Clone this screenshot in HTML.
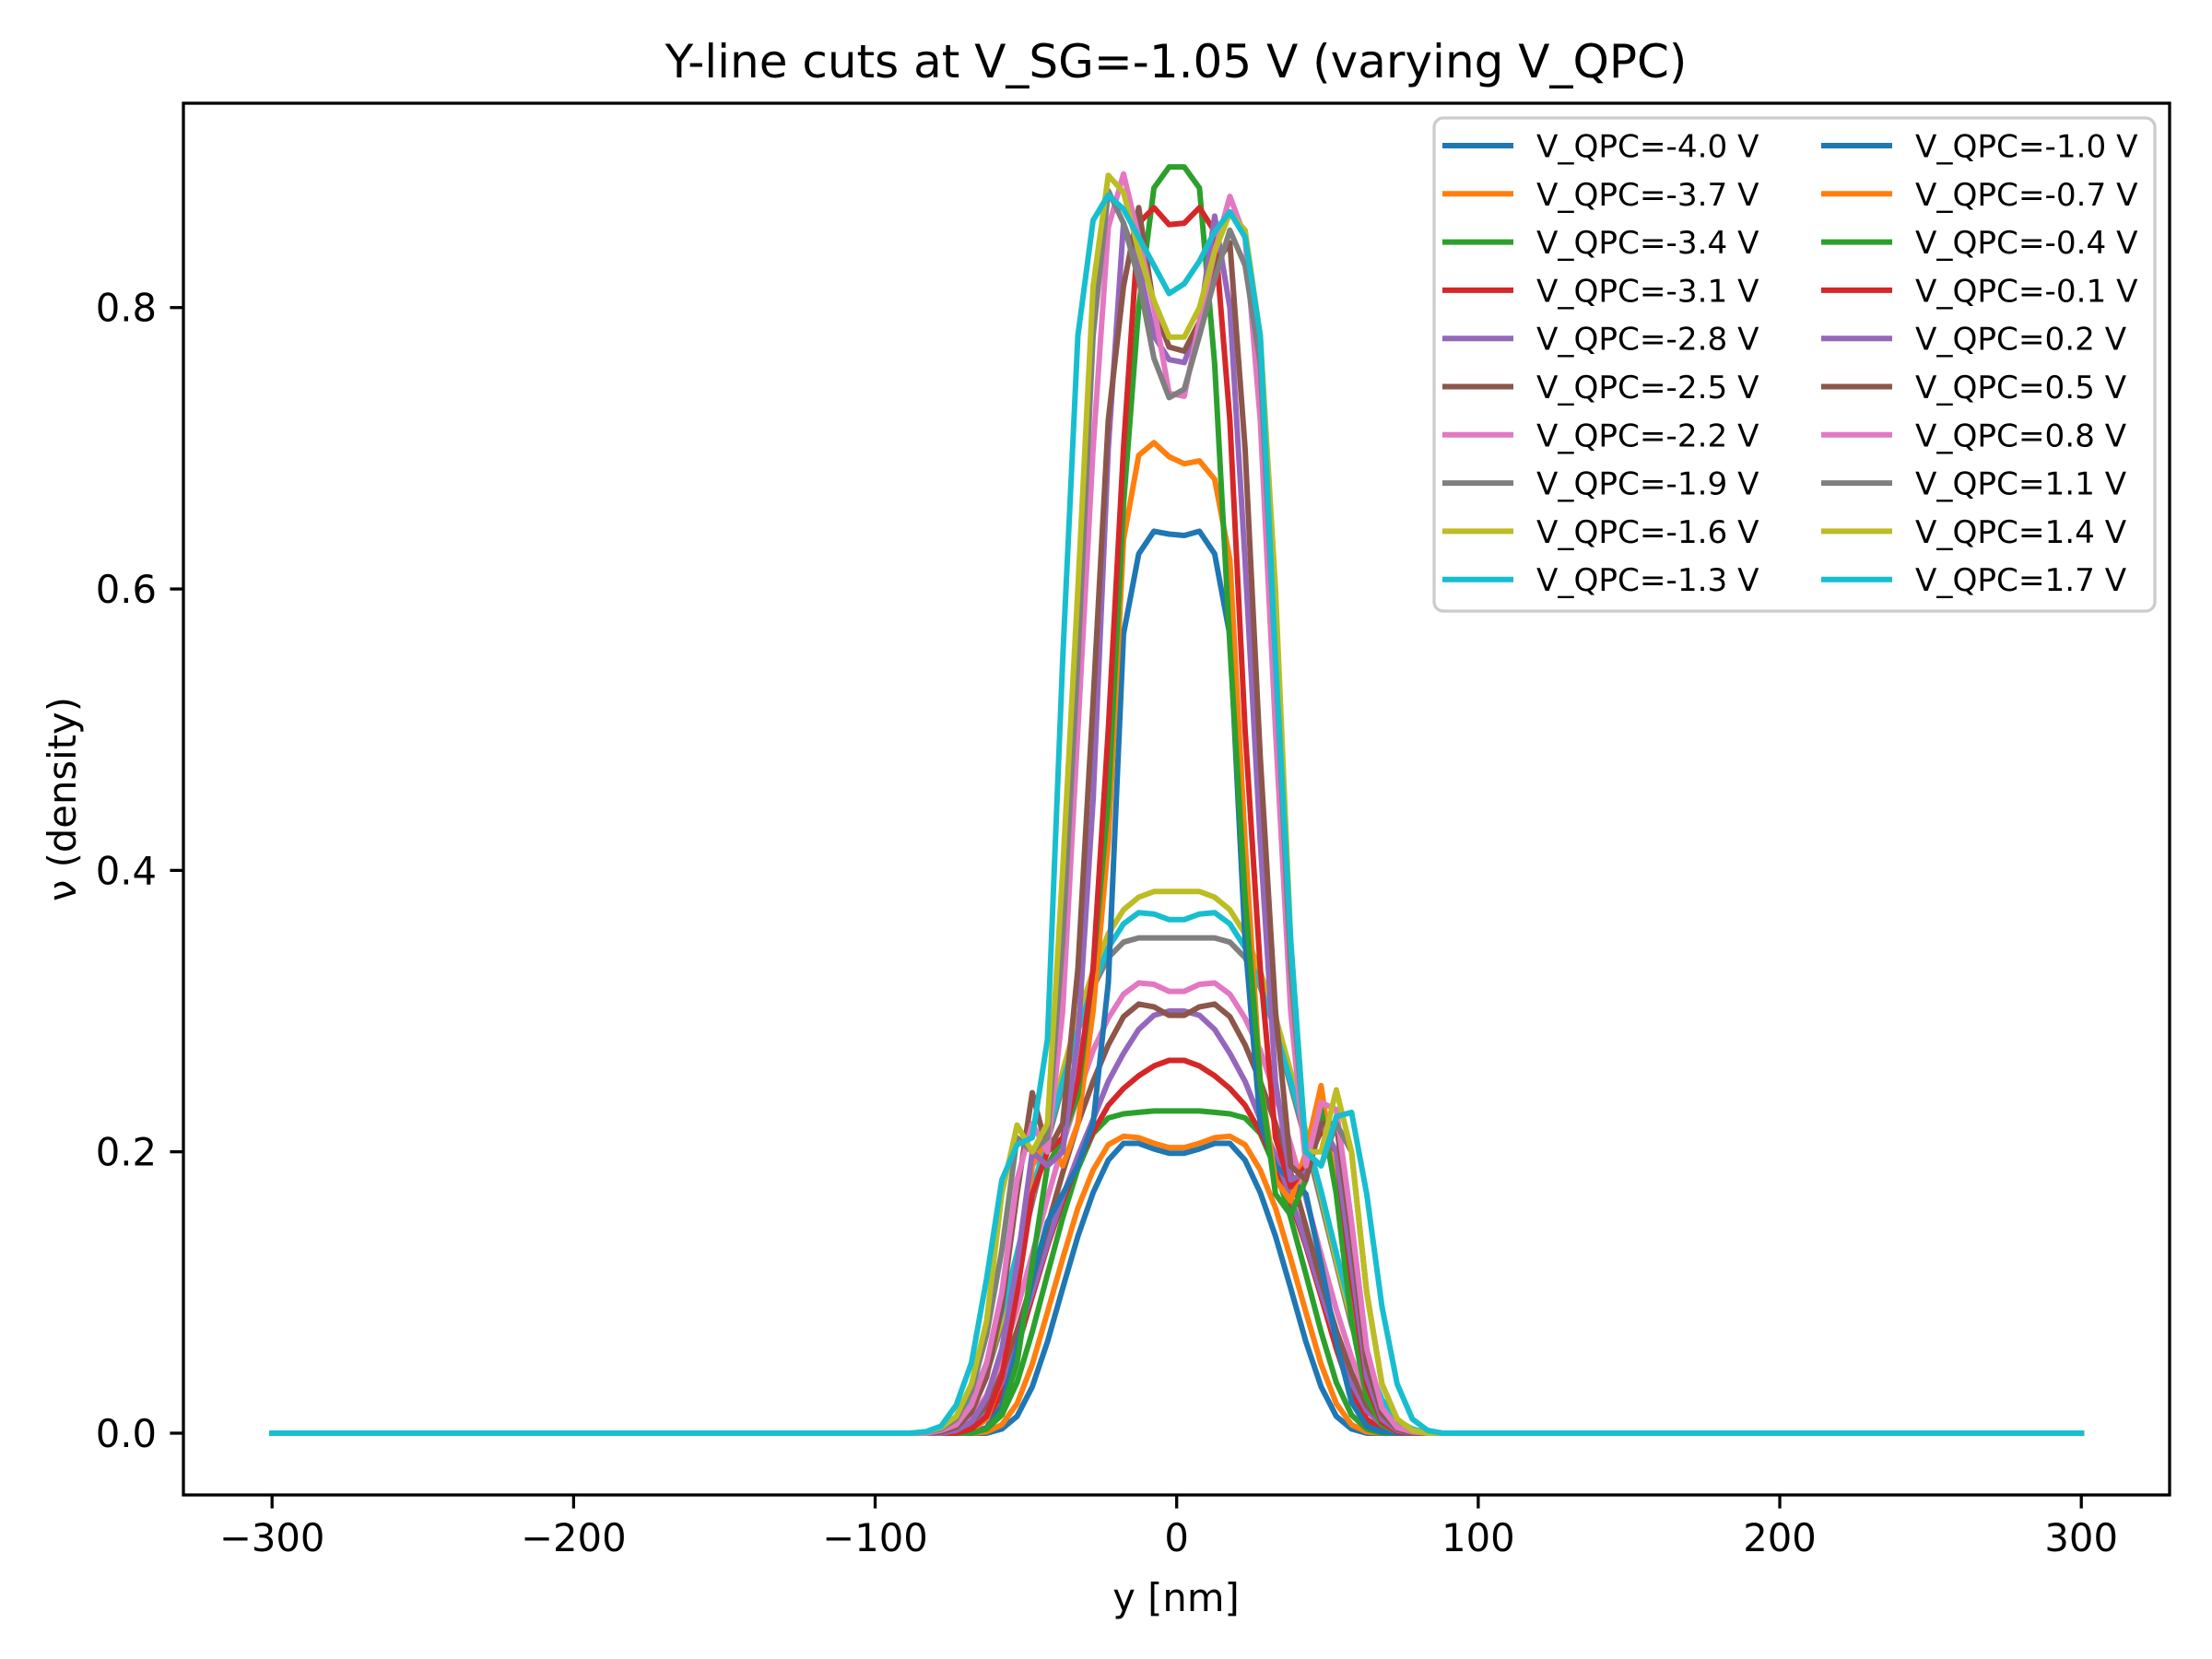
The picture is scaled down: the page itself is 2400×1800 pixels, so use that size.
<!DOCTYPE html>
<html><head><meta charset="utf-8"><style>
html,body{margin:0;padding:0;background:#fff;}
svg{display:block;font-family:"DejaVu Sans","Liberation Sans",sans-serif;}
</style></head><body>
<svg id="chart" width="2400" height="1800" viewBox="0 0 2400 1800" xmlns="http://www.w3.org/2000/svg">
<rect x="0" y="0" width="2400" height="1800" fill="#fff"/>
<text x="1276" y="84" font-size="50" text-anchor="middle">Y-line cuts at V_SG=-1.05 V (varying V_QPC)</text>
<text x="1276" y="1748" font-size="41.7" text-anchor="middle">y [nm]</text>
<text transform="translate(82,867) rotate(-90)" font-size="41.7" text-anchor="middle">ν (density)</text>
<g id="plot"></g>
<rect x="199" y="112" width="2155" height="1510" fill="none" stroke="#000" stroke-width="3.3"/>
<g id="legend"></g>
</svg>
<script>
const labels = ["V_QPC=-4.0 V","V_QPC=-3.7 V","V_QPC=-3.4 V","V_QPC=-3.1 V","V_QPC=-2.8 V","V_QPC=-2.5 V","V_QPC=-2.2 V","V_QPC=-1.9 V","V_QPC=-1.6 V","V_QPC=-1.3 V","V_QPC=-1.0 V","V_QPC=-0.7 V","V_QPC=-0.4 V","V_QPC=-0.1 V","V_QPC=0.2 V","V_QPC=0.5 V","V_QPC=0.8 V","V_QPC=1.1 V","V_QPC=1.4 V","V_QPC=1.7 V"];
const colors = ["#1f77b4","#ff7f0e","#2ca02c","#d62728","#9467bd","#8c564b","#e377c2","#7f7f7f","#bcbd22","#17becf"];
const xTicks = [-300,-200,-100,0,100,200,300];
const yTicks = [0.0,0.2,0.4,0.6,0.8];
const xMin = -300, xMax = 300, nPts = 120, firstIdx = 42;
const s00 = [0,0,0,0,0,0,.003,.012,.033,.065,.103,.14,.171,.194,.206,.206,.202,.199,.199,.202,.206,.206,.194,.171,.14,.103,.065,.033,.012,.003,0,0,0,0,0,0];
const s01 = [0,0,0,0,0,.001,.006,.021,.049,.086,.124,.16,.187,.205,.211,.21,.206,.203,.203,.206,.21,.211,.205,.187,.16,.124,.086,.049,.021,.006,.001,0,0,0,0,0];
const s02 = [0,0,0,0,0,.003,.013,.036,.072,.113,.153,.188,.213,.224,.227,.228,.229,.229,.229,.229,.228,.227,.224,.213,.188,.153,.113,.072,.036,.013,.003,0,0,0,0,0];
const s03 = [0,0,0,0,.002,.01,.028,.06,.097,.133,.165,.192,.214,.233,.245,.254,.261,.265,.265,.261,.254,.245,.233,.214,.192,.165,.133,.097,.06,.028,.01,.002,0,0,0,0];
const s04 = [0,0,0,.001,.006,.016,.036,.067,.1,.135,.168,.197,.223,.25,.27,.287,.297,.3,.3,.297,.287,.27,.25,.223,.197,.168,.135,.1,.067,.036,.016,.006,.001,0,0,0];
const s05 = [0,0,0,.002,.008,.02,.043,.073,.108,.147,.185,.22,.25,.276,.296,.305,.303,.297,.297,.303,.305,.296,.276,.25,.22,.185,.147,.108,.073,.043,.02,.008,.002,0,0,0];
const s06 = [0,0,.001,.004,.011,.027,.054,.088,.127,.167,.205,.24,.272,.295,.312,.32,.319,.314,.314,.319,.32,.312,.295,.272,.24,.205,.167,.127,.088,.054,.027,.011,.004,.001,0,0];
const s07 = [0,0,.002,.006,.018,.042,.077,.12,.164,.207,.247,.286,.317,.338,.349,.352,.352,.352,.352,.352,.352,.349,.338,.317,.286,.247,.207,.164,.12,.077,.042,.018,.006,.002,0,0];
const s08 = [0,0,.002,.007,.02,.045,.081,.123,.169,.214,.257,.296,.328,.355,.372,.381,.385,.385,.385,.385,.381,.372,.355,.328,.296,.257,.214,.169,.123,.081,.045,.02,.007,.002,0,0];
const s09 = [0,0,.003,.009,.024,.05,.086,.128,.172,.212,.25,.286,.318,.345,.362,.37,.369,.365,.365,.369,.37,.362,.345,.318,.286,.25,.212,.172,.128,.086,.05,.024,.009,.003,0,0];
const s10 = [0,0,0,0,0,.004,.02,.06,.11,.15,.17,.19,.22,.32,.568,.625,.641,.639,.638,.641,.625,.567,.35,.22,.19,.18,.17,.12,.065,.022,.005,.001,0,0,0,0];
const s11 = [0,0,0,0,.002,.01,.04,.1,.19,.21,.19,.22,.3,.42,.635,.695,.704,.694,.689,.691,.678,.621,.42,.25,.18,.165,.2,.247,.17,.08,.025,.006,.001,0,0,0];
const s12 = [0,0,0,0,0,.003,.015,.05,.12,.19,.21,.24,.33,.45,.66,.8,.885,.9,.9,.885,.76,.56,.38,.25,.17,.155,.18,.23,.17,.08,.025,.006,.001,0,0,0];
const s13 = [0,0,0,0,.003,.012,.04,.1,.17,.2,.21,.25,.33,.5,.7,.86,.871,.859,.86,.871,.854,.72,.5,.33,.21,.175,.19,.215,.2,.11,.035,.008,.001,0,0,0];
const s14 = [0,0,0,.002,.008,.025,.06,.12,.2,.19,.2,.28,.45,.7,.86,.83,.78,.763,.761,.79,.865,.8,.62,.42,.25,.18,.185,.22,.2,.12,.04,.01,.002,0,0,0];
const s15 = [0,0,.001,.004,.015,.04,.09,.17,.242,.2,.22,.33,.52,.72,.815,.871,.8,.772,.769,.79,.83,.846,.7,.48,.3,.19,.18,.22,.22,.14,.05,.014,.003,0,0,0];
const s16 = [0,0,.002,.006,.02,.05,.1,.18,.22,.2,.3,.5,.7,.857,.895,.85,.8,.739,.737,.79,.84,.879,.85,.72,.5,.3,.19,.235,.23,.15,.06,.018,.004,.001,0,0];
const s17 = [0,.001,.003,.01,.03,.07,.13,.21,.2,.21,.35,.55,.78,.883,.86,.82,.764,.736,.742,.78,.82,.855,.83,.76,.55,.33,.2,.19,.22,.2,.1,.035,.01,.002,0,0];
const s18 = [0,.001,.004,.012,.035,.08,.17,.219,.2,.22,.4,.6,.815,.894,.882,.84,.805,.779,.779,.8,.84,.867,.855,.78,.6,.35,.2,.2,.244,.2,.1,.035,.01,.002,0,0];
const s19 = [0,.001,.005,.02,.05,.11,.18,.205,.21,.28,.55,.78,.862,.88,.87,.85,.83,.81,.817,.833,.854,.868,.85,.78,.55,.35,.2,.19,.225,.228,.17,.09,.035,.01,.002,0];
const series = [s00,s01,s02,s03,s04,s05,s06,s07,s08,s09,s10,s11,s12,s13,s14,s15,s16,s17,s18,s19];

const NS = "http://www.w3.org/2000/svg";
const X0 = 1276.7, XS = 3.2717, Y0 = 1555, YS = 1526.6;
function sx(v){ return X0 + v*XS; }
function sy(v){ return Y0 - v*YS; }
const plot = document.getElementById('plot');
const svg = document.getElementById('chart');

xTicks.forEach(t => {
  const ln = document.createElementNS(NS,'line');
  ln.setAttribute('x1',sx(t)); ln.setAttribute('x2',sx(t));
  ln.setAttribute('y1',1622); ln.setAttribute('y2',1636.6);
  ln.setAttribute('stroke','#000'); ln.setAttribute('stroke-width','3.3');
  
  
  svg.appendChild(ln);
  const tx = document.createElementNS(NS,'text');
  tx.setAttribute('x',sx(t)); tx.setAttribute('y',1683);
  tx.setAttribute('font-size','41.7'); tx.setAttribute('text-anchor','middle');
  tx.textContent = (t<0 ? '\u2212'+Math.abs(t) : String(t));
  
  
  svg.appendChild(tx);
});
yTicks.forEach(t => {
  const ln = document.createElementNS(NS,'line');
  ln.setAttribute('x1',184.4); ln.setAttribute('x2',199);
  ln.setAttribute('y1',sy(t)); ln.setAttribute('y2',sy(t));
  ln.setAttribute('stroke','#000'); ln.setAttribute('stroke-width','3.3');
  
  
  svg.appendChild(ln);
  const tx = document.createElementNS(NS,'text');
  tx.setAttribute('x',170); tx.setAttribute('y',sy(t)+15);
  tx.setAttribute('font-size','41.7'); tx.setAttribute('text-anchor','end');
  tx.textContent = t.toFixed(1);
  
  
  svg.appendChild(tx);
});

series.forEach((vals, k) => {
  const pts = [];
  for (let i = 0; i < nPts; i++) {
    const x = xMin + i*(xMax-xMin)/(nPts-1);
    const j = i - firstIdx;
    const v = (j >= 0 && j < vals.length) ? vals[j] : 0;
    pts.push(sx(x).toFixed(1)+','+sy(v).toFixed(1));
  }
  const pl = document.createElementNS(NS,'polyline');
  pl.setAttribute('points', pts.join(' '));
  pl.setAttribute('fill','none');
  pl.setAttribute('stroke', colors[k%10]);
  pl.setAttribute('stroke-width','6');
  pl.setAttribute('stroke-linejoin','round');
  pl.setAttribute('stroke-linecap','square');
  
  
  plot.appendChild(pl);
});

const lg = document.getElementById('legend');
const box = document.createElementNS(NS,'rect');
box.setAttribute('x',1556); box.setAttribute('y',128);
box.setAttribute('width',782); box.setAttribute('height',535);
box.setAttribute('rx',10); box.setAttribute('fill','rgba(255,255,255,0.8)');
box.setAttribute('stroke','#cccccc'); box.setAttribute('stroke-width','3.3');


lg.appendChild(box);
labels.forEach((lab, k) => {
  const col = Math.floor(k/10), row = k%10;
  const y = 158 + row*52.3;
  const hx = col === 0 ? 1565 : 1976;
  const ln = document.createElementNS(NS,'line');
  ln.setAttribute('x1',hx); ln.setAttribute('x2',hx+77);
  ln.setAttribute('y1',y); ln.setAttribute('y2',y);
  ln.setAttribute('stroke',colors[k%10]); ln.setAttribute('stroke-width','6');
  
  
  lg.appendChild(ln);
  const tx = document.createElementNS(NS,'text');
  tx.setAttribute('x', hx+102); tx.setAttribute('y', y+12.5);
  tx.setAttribute('font-size','34.2');
  tx.textContent = lab;
  
  
  lg.appendChild(tx);
});
</script>
</body></html>
